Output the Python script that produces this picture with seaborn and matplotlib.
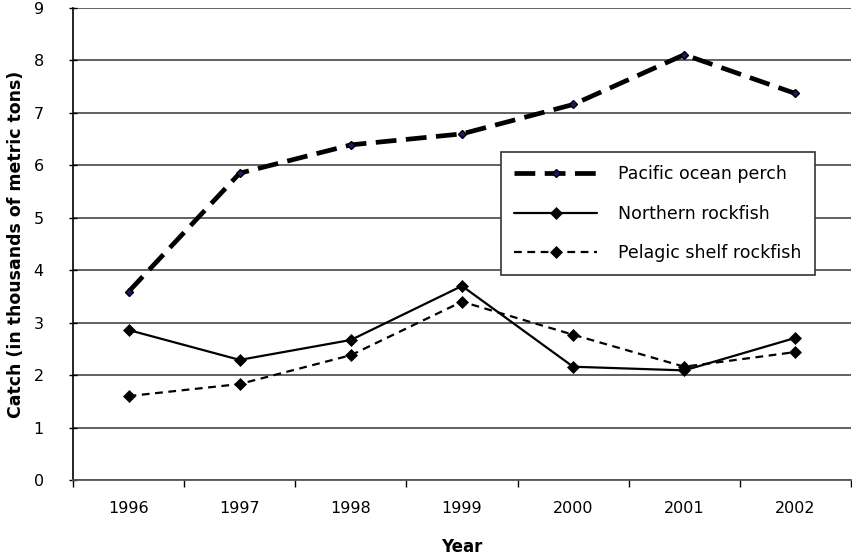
import matplotlib
matplotlib.use("Agg")
import matplotlib.pyplot as plt
import seaborn as sns
import pandas as pd
import numpy as np

years = ["1996", "1997", "1998", "1999", "2000", "2001", "2002"]
pacific = [3.59, 5.85, 6.39, 6.60, 7.16, 8.11, 7.37]
northern = [2.86, 2.29, 2.67, 3.70, 2.16, 2.09, 2.71]
pelagic = [1.60, 1.83, 2.38, 3.40, 2.77, 2.16, 2.44]
series_names = ["Pacific ocean perch", "Northern rockfish", "Pelagic shelf rockfish"]

sns.set_theme(style="white")
plt.rcParams['font.family'] = ['DejaVu Sans']
plt.rcParams['text.color'] = 'black'

fig = plt.figure(figsize=(8.53, 5.57), dpi=100)
ax = fig.add_axes([73/853, 1 - 480/557, (851-73)/853, (480-8)/557])

df = pd.DataFrame({"Year": years * 3,
                   "Catch": pacific + northern + pelagic,
                   "Series": [series_names[0]]*7 + [series_names[1]]*7 + [series_names[2]]*7})
pos = {y: i for i, y in enumerate(years)}
df["x"] = df["Year"].map(pos)

styles = {
    series_names[0]: dict(lw=3.4, dashes=(4.4, 2.0), marker="D", ms=4, mfc="#1a1a66", mec="black", mew=1),
    series_names[1]: dict(lw=1.6, dashes=None, marker="D", ms=6, mfc="black", mec="black", mew=0.5),
    series_names[2]: dict(lw=1.6, dashes=(3.5, 2.5), marker="D", ms=6, mfc="black", mec="black", mew=0.5),
}

for name in series_names:
    st = styles[name]
    sub = df[df["Series"] == name]
    kw = dict(color="black", linewidth=st["lw"], marker=st["marker"], markersize=st["ms"],
              markerfacecolor=st["mfc"], markeredgecolor=st["mec"], markeredgewidth=st["mew"],
              label=name, ax=ax, zorder=3)
    sns.lineplot(data=sub, x="x", y="Catch", **kw)
    line = ax.get_lines()[-1]
    if st["dashes"] is not None:
        line.set_dashes(st["dashes"])
        line.set_dash_capstyle("butt")

ax.set_xlim(-0.5, 6.5)
ax.set_ylim(0, 9)
ax.set_yticks(range(0, 10))
ax.yaxis.grid(True, color="#555555", linewidth=1.3)
ax.set_axisbelow(True)
ax.set_xticks(range(7))
ax.set_xticklabels(years)
ax.set_xticks(np.arange(-0.5, 7.0, 1.0), minor=True)
ax.tick_params(axis="x", which="major", length=0, pad=15, labelsize=11.5, colors="black")
ax.tick_params(axis="x", which="minor", length=5, width=1, color="black", direction="out", bottom=True)
ax.tick_params(axis="y", length=6, width=1, color="black", direction="inout", left=True, labelsize=11.5, pad=18, colors="black")

for s in ["top", "right"]:
    ax.spines[s].set_visible(False)
ax.spines["left"].set_color("black")
ax.spines["left"].set_linewidth(1.2)
ax.spines["bottom"].set_color("#555555")
ax.spines["bottom"].set_linewidth(1.3)

ax.set_xlabel("Year", fontsize=12, fontweight="bold", labelpad=16, color="black")
ax.set_ylabel("Catch (in thousands of metric tons)", fontsize=12.5, fontweight="bold", labelpad=6, color="black")

leg = ax.legend(loc="upper left", bbox_to_anchor=((501-73)/(851-73), 1 - (152-8)/472),
                frameon=True, fancybox=False, edgecolor="#333333", fontsize=12.5,
                handlelength=4.8, borderpad=0.75, labelspacing=1.25, handletextpad=1.2,
                borderaxespad=0)
leg.get_frame().set_linewidth(1.2)
leg.get_frame().set_alpha(1)
for t in leg.get_texts():
    t.set_color("black")

fig.savefig("out.png", dpi=100)
